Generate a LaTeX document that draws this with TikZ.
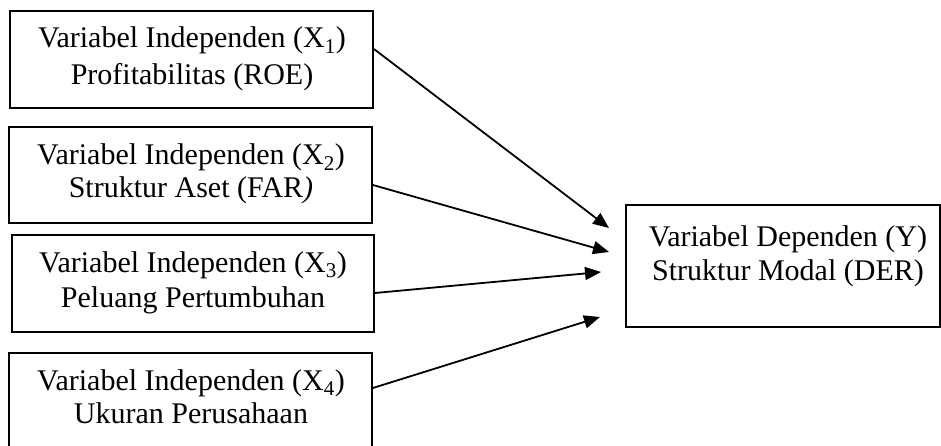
\documentclass[tikz,border=0pt]{standalone}
\usepackage{fontspec}
\setmainfont{Liberation Serif}
\usetikzlibrary{arrows.meta}
\tikzset{
  varbox/.style={draw=black, line width=1.8pt, rectangle, inner sep=0pt},
  vartext/.style={align=center, inner sep=0pt, font=\fontsize{30}{35}\selectfont, anchor=base},
  link/.style={line width=1.8pt, -{Triangle[length=16pt, width=13pt]}}
}
\begin{document}
\begin{tikzpicture}[x=1pt, y=-1pt]
  \useasboundingbox (0,0) rectangle (941,446);
  \clip (0,0) rectangle (941,446);
  % independent variable boxes
  \node[varbox, minimum width=363pt, minimum height=97pt] (x1) at (191.5,59.5) {};
  \node[varbox, minimum width=363pt, minimum height=96pt] (x2) at (190.5,175) {};
  \node[varbox, minimum width=362pt, minimum height=97pt] (x3) at (193,283.5) {};
  \node[varbox, minimum width=363pt, minimum height=110pt] (x4) at (190.5,408) {};
  % dependent variable box
  \node[varbox, minimum width=314pt, minimum height=122pt] (y) at (783,266) {};
  % box texts
  \node[vartext] (x1a) at (192,48) {Variabel Independen (X\textsubscript{1})};
  \node[vartext] (x1b) at (192,85) {Profitabilitas (ROE)};
  \node[vartext] (x2a) at (191,165) {Variabel Independen (X\textsubscript{2})};
  \node[vartext] (x2b) at (191,198) {Struktur Aset (FAR\textit{)}};
  \node[vartext] (x3a) at (193,272) {Variabel Independen (X\textsubscript{3})};
  \node[vartext] (x3b) at (193,307) {Peluang Pertumbuhan};
  \node[vartext] (x4a) at (191,390) {Variabel Independen (X\textsubscript{4})};
  \node[vartext] (x4b) at (191,423) {Ukuran Perusahaan};
  \node[vartext] (ya) at (788,247) {Variabel Dependen (Y)};
  \node[vartext] (yb) at (788,280) {Struktur Modal (DER)};
  % arrow targets in front of the dependent box
  \coordinate (t1) at (609,228);
  \coordinate (t2) at (609,252);
  \coordinate (t3) at (601,272);
  \coordinate (t4) at (600,317);
  % connectors
  \draw[link] ([yshift=10.5pt]x1.east) -- (t1);
  \draw[link] ([yshift=-10pt]x2.east) -- (t2);
  \draw[link] ([yshift=-9.5pt]x3.east) -- (t3);
  \draw[link] ([yshift=20pt]x4.east) -- (t4);
\end{tikzpicture}
\end{document}
